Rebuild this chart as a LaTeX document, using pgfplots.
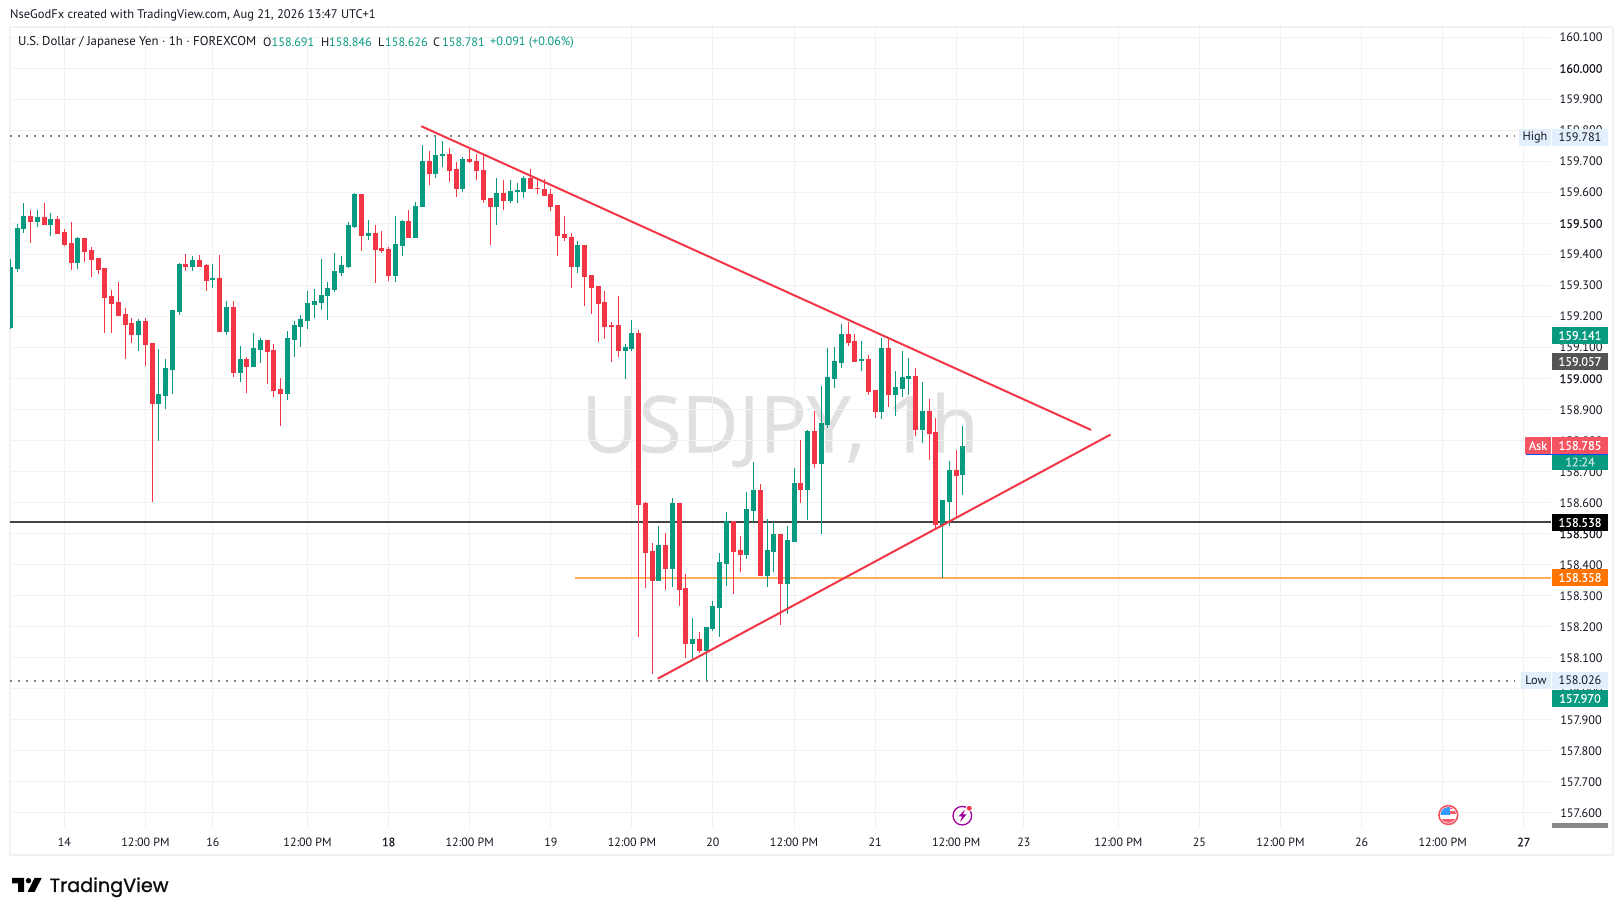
\documentclass[border=0pt]{standalone}
\usepackage{pgfplots}
\usepackage{pgfplotstable}
\usepackage{fontspec}
\pgfplotsset{compat=1.18}
\setmainfont{PT Sans}
\newfontfamily\midfont[FakeBold=0.35]{PT Sans}
\newfontfamily\logofont[FakeBold=1.1]{Poppins}
\newfontfamily\wmfont[FakeBold=0.4]{Open Sans}
\definecolor{tvg}{HTML}{089981}
\definecolor{tvr}{HTML}{F23645}
\definecolor{tvgrid}{HTML}{F1F1F1}
\definecolor{tvframe}{HTML}{F2F2F2}
\definecolor{tvtxt}{HTML}{131722}
\definecolor{tvtag}{HTML}{E3EFFD}
\definecolor{tvblk}{HTML}{434343}
\definecolor{tvorg}{HTML}{FFAE5E}
\pgfplotstableread{
i top bot hi lo
-8 159.358 159.165 159.387 159.161
-7 159.484 159.355 159.500 159.345
-6 159.523 159.481 159.568 159.471
-4 159.519 159.506 159.545 159.490
-2 159.513 159.494 159.535 159.461
2 159.452 159.374 159.458 159.355
11 159.184 159.142 159.194 159.090
14 158.948 158.919 159.097 158.800
15 159.032 158.945 159.065 158.903
16 159.219 159.029 159.219 158.952
17 159.368 159.216 159.374 159.206
19 159.381 159.361 159.394 159.348
22 159.323 159.319 159.371 159.294
24 159.229 159.152 159.252 159.142
26 159.061 159.019 159.106 158.990
28 159.097 159.039 159.148 159.039
29 159.123 159.094 159.132 159.052
33 159.129 158.952 159.155 158.932
34 159.171 159.126 159.187 159.071
35 159.190 159.168 159.206 159.103
36 159.242 159.187 159.284 159.161
37 159.248 159.239 159.290 159.197
38 159.268 159.245 159.387 159.223
39 159.290 159.265 159.313 159.190
40 159.345 159.287 159.406 159.281
41 159.365 159.342 159.397 159.332
42 159.494 159.361 159.506 159.358
43 159.594 159.490 159.600 159.487
45 159.468 159.461 159.513 159.448
49 159.432 159.332 159.526 159.313
50 159.506 159.429 159.513 159.397
52 159.555 159.455 159.571 159.455
53 159.700 159.552 159.752 159.552
55 159.719 159.661 159.781 159.648
56 159.723 159.719 159.765 159.681
59 159.706 159.610 159.716 159.603
64 159.597 159.552 159.648 159.497
66 159.603 159.574 159.642 159.565
67 159.606 159.603 159.632 159.565
68 159.645 159.603 159.652 159.581
76 159.429 159.361 159.445 159.342
83 159.100 159.090 159.113 159.000
84 159.145 159.097 159.190 159.090
88 158.461 158.348 158.526 158.348
90 158.597 158.387 158.616 158.329
93 158.158 158.145 158.229 158.094
95 158.197 158.123 158.200 158.026
96 158.265 158.194 158.284 158.187
97 158.406 158.261 158.439 158.168
98 158.539 158.403 158.571 158.332
101 158.577 158.432 158.635 158.419
102 158.639 158.574 158.732 158.539
104 158.445 158.365 158.548 158.329
105 158.497 158.442 158.539 158.377
107 158.477 158.339 158.526 158.242
108 158.661 158.474 158.713 158.474
110 158.829 158.642 158.835 158.545
112 158.855 158.726 158.977 158.500
113 159.003 158.852 159.100 158.842
114 159.055 159.000 159.103 158.971
115 159.142 159.052 159.177 159.035
118 159.061 159.058 159.123 159.026
121 159.097 158.894 159.132 158.871
123 158.971 158.948 159.026 158.881
124 159.003 158.968 159.090 158.942
125 159.006 159.000 159.068 158.948
127 158.894 158.835 158.990 158.794
130 158.606 158.529 158.610 158.358
131 158.703 158.603 158.735 158.526
133 158.781 158.691 158.846 158.626
}\greencandles
\pgfplotstableread{
i top bot hi lo
-5 159.523 159.506 159.545 159.439
-3 159.519 159.494 159.568 159.494
-1 159.513 159.468 159.523 159.465
0 159.471 159.432 159.484 159.429
1 159.435 159.374 159.506 159.352
3 159.452 159.410 159.452 159.377
4 159.413 159.384 159.423 159.329
5 159.387 159.352 159.387 159.339
6 159.355 159.261 159.358 159.148
7 159.265 159.242 159.287 159.148
8 159.245 159.203 159.313 159.203
9 159.206 159.174 159.229 159.065
10 159.177 159.142 159.197 159.116
12 159.184 159.110 159.197 159.042
13 159.113 158.919 159.116 158.603
18 159.368 159.361 159.403 159.348
20 159.381 159.361 159.400 159.361
21 159.365 159.316 159.371 159.284
23 159.323 159.152 159.400 159.152
25 159.229 159.019 159.252 159.006
27 159.061 159.039 159.071 158.955
30 159.123 159.087 159.126 158.984
31 159.090 158.961 159.113 158.942
32 158.965 158.952 159.003 158.848
44 159.594 159.461 159.597 159.413
46 159.468 159.416 159.494 159.310
47 159.419 159.413 159.477 159.406
48 159.416 159.332 159.426 159.316
51 159.506 159.455 159.545 159.455
54 159.700 159.661 159.735 159.623
57 159.723 159.671 159.745 159.635
58 159.674 159.610 159.697 159.587
60 159.706 159.697 159.742 159.694
61 159.700 159.668 159.723 159.642
62 159.671 159.577 159.723 159.568
63 159.581 159.552 159.584 159.432
65 159.597 159.574 159.642 159.545
69 159.645 159.610 159.677 159.610
70 159.613 159.610 159.645 159.594
71 159.610 159.590 159.645 159.590
72 159.594 159.555 159.610 159.542
73 159.558 159.461 159.558 159.394
74 159.465 159.452 159.526 159.445
75 159.455 159.361 159.471 159.294
77 159.429 159.329 159.429 159.235
78 159.332 159.294 159.335 159.210
79 159.297 159.242 159.300 159.119
80 159.245 159.168 159.284 159.129
81 159.171 159.168 159.184 159.055
82 159.171 159.090 159.268 159.071
85 159.145 158.594 159.158 158.168
86 158.597 158.439 158.603 158.326
87 158.442 158.348 158.471 158.048
89 158.461 158.387 158.503 158.319
91 158.597 158.319 158.597 158.268
92 158.323 158.145 158.371 158.100
94 158.158 158.123 158.184 158.116
99 158.539 158.442 158.542 158.306
100 158.445 158.432 158.494 158.377
103 158.639 158.365 158.661 158.365
106 158.497 158.339 158.500 158.206
109 158.661 158.642 158.803 158.600
111 158.829 158.726 158.897 158.713
116 159.142 159.116 159.184 159.106
117 159.119 159.055 159.145 159.055
119 159.061 158.958 159.077 158.948
120 158.961 158.894 158.961 158.874
122 159.097 158.948 159.129 158.910
126 159.006 158.835 159.035 158.816
128 158.894 158.823 158.935 158.739
129 158.826 158.529 158.874 158.516
132 158.703 158.687 158.771 158.555
}\redcandles
% px helper: y measured from the top of the 1623x916 image
\newcommand{\ptag}[6]{% x0,x1,ytop,ybot,fill,text
  \fill[#5] (#1pt,916pt-#3pt) rectangle (#2pt,916pt-#4pt);
  \node[anchor=center,inner sep=0pt,font=\fontsize{12.3}{15}\selectfont] at ({(#1+#2)/2*1pt},{916pt-(#3+#4)/2*1pt}) {#6};}
\begin{document}
\begin{tikzpicture}[x=1pt,y=1pt]
\useasboundingbox (0,0) rectangle (1623,916);
\fill[white] (0,0) rectangle (1623,916);
% frame
\draw[tvframe,line width=2.5pt] (10,916-27) rectangle (1613,916-855);
% watermark
\node[anchor=center,inner sep=0pt,text=black!12,font=\wmfont\fontsize{78.5}{90}\selectfont] at (780,916-430) {USDJPY, 1h};
\begin{axis}[
  at={(10pt,88pt)},anchor=south west,
  scale only axis,width=1541pt,height=802pt,
  xmin=-8.04,xmax=220.03,ymin=157.5516,ymax=160.1387,
  axis line style={draw=none},major tick length=0pt,
  grid=major,grid style={tvgrid,line width=1pt},
  xtick={0,12,22,36,48,60,72,84,96,108,120,132,142,156,168,180,192,204,216},
  xticklabels={14,12:00 PM,16,12:00 PM,{\midfont 18},12:00 PM,19,12:00 PM,20,12:00 PM,21,12:00 PM,23,12:00 PM,25,12:00 PM,26,12:00 PM,{\midfont 27}},
  xticklabel style={anchor=center,yshift=-14pt,font=\fontsize{12}{14}\selectfont,text=tvtxt},
  ytick={157.6,157.7,157.8,157.9,158.0,158.1,158.2,158.3,158.4,158.5,158.6,158.7,158.8,158.9,159.0,159.1,159.2,159.3,159.4,159.5,159.6,159.7,159.8,159.9,160.0,160.1},
  yticklabels={157.600,157.700,157.800,157.900,158.000,158.100,158.200,158.300,158.400,{\midfont 158.500},158.600,158.700,158.800,158.900,{\midfont 159.000},159.100,159.200,159.300,159.400,{\midfont 159.500},159.600,159.700,159.800,159.900,{\midfont 160.000},160.100},
  yticklabel pos=right,
  yticklabel style={anchor=center,xshift=30pt,font=\fontsize{12.3}{15}\selectfont,text=tvtxt},
]
% horizontal levels, beneath the candles
\addplot[color=tvorg,line width=2pt,forget plot] coordinates {(75.65,158.358) (220.03,158.358)};
\addplot[color=tvblk,line width=2pt,forget plot] coordinates {(-8.04,158.538) (220.03,158.538)};
% wicks and bodies
\addplot[draw=none,mark=none,forget plot,error bars/.cd,y dir=plus,y explicit,error mark=none,error bar style={draw=tvg,line width=1pt}] table[x=i,y=lo,y error expr=\thisrow{hi}-\thisrow{lo}] {\greencandles};
\addplot[draw=none,mark=none,forget plot,error bars/.cd,y dir=plus,y explicit,error mark=none,error bar style={draw=tvg,line width=5pt}] table[x=i,y=bot,y error expr=\thisrow{top}-\thisrow{bot}+0.002] {\greencandles};
\addplot[draw=none,mark=none,forget plot,error bars/.cd,y dir=plus,y explicit,error mark=none,error bar style={draw=tvr,line width=1pt}] table[x=i,y=lo,y error expr=\thisrow{hi}-\thisrow{lo}] {\redcandles};
\addplot[draw=none,mark=none,forget plot,error bars/.cd,y dir=plus,y explicit,error mark=none,error bar style={draw=tvr,line width=5pt}] table[x=i,y=bot,y error expr=\thisrow{top}-\thisrow{bot}+0.002] {\redcandles};
% high / low dotted
\addplot[color=black!50,line width=2pt,dash pattern=on 2pt off 6pt,forget plot] coordinates {(-8.04,159.781) (214.7,159.781)};
\addplot[color=black!50,line width=2pt,dash pattern=on 2pt off 6pt,forget plot] coordinates {(-8.04,158.026) (214.7,158.026)};
% trend lines
\addplot[color=tvr,line width=2pt,forget plot] coordinates {(52.83,159.814) (151.95,158.835)};
\addplot[color=tvr,line width=2pt,forget plot] coordinates {(87.82,158.033) (154.85,158.820)};
\end{axis}
% price tags
\ptag{1519}{1551}{129}{146}{tvtag}{\textcolor{tvtxt}{High}}
\ptag{1552}{1608}{129}{146}{tvtag}{\textcolor{tvtxt}{159.781}}
\ptag{1552}{1608}{327}{344}{tvg}{\textcolor{white}{\midfont 159.141}}
\ptag{1552}{1608}{353}{370}{black!67}{\textcolor{white}{\midfont 159.057}}
\ptag{1525}{1551}{437}{454}{tvr!85!white}{\textcolor{white}{\midfont Ask}}
\ptag{1552}{1608}{437}{454}{tvr!85!white}{\textcolor{white}{\midfont 158.785}}
\ptag{1552}{1608}{454}{470}{tvg}{\textcolor{white!75!tvg}{\midfont 12:24}}
\fill[blue!70!cyan] (1526,916-454.6) rectangle (1608,916-453.6);
\ptag{1552}{1608}{514}{531}{black}{\textcolor{white}{\midfont 158.538}}
\ptag{1552}{1608}{569}{586}{orange!90!red}{\textcolor{white}{\midfont 158.358}}
\ptag{1521}{1551}{672}{689}{tvtag}{\textcolor{tvtxt}{Low}}
\ptag{1552}{1608}{672}{689}{tvtag}{\textcolor{tvtxt}{158.026}}
\ptag{1552}{1608}{690}{707}{tvg}{\textcolor{white}{\midfont 157.970}}
\fill[black!47] (1552,916-823) rectangle (1608,916-828);
% header texts
\node[anchor=west,inner sep=0pt,text=tvtxt,font=\fontsize{12.5}{14}\selectfont] at (10,916-15.5) {NseGodFx created with TradingView.com, Aug 21, 2026 13:47 UTC+1};
\node[anchor=west,inner sep=0pt,text=tvtxt,font=\fontsize{12.8}{14}\selectfont] at (18,916-42.5) {U.S. Dollar / Japanese Yen · 1h · FOREXCOM};
\begin{scope}[every node/.style={anchor=west,inner sep=0pt,font=\fontsize{12.2}{14}\selectfont}]
\node[text=tvtxt] at (263,916-42.5) {O};\node[text=tvg] at (271.5,916-42.5) {158.691};
\node[text=tvtxt] at (321,916-42.5) {H};\node[text=tvg] at (329,916-42.5) {158.846};
\node[text=tvtxt] at (378,916-42.5) {L};\node[text=tvg] at (385,916-42.5) {158.626};
\node[text=tvtxt] at (433,916-42.5) {C};\node[text=tvg] at (442,916-42.5) {158.781};
\node[text=tvg] at (490,916-42.5) {+0.091 (+0.06\%)};
\end{scope}
% event icons
\draw[violet!75!magenta,line width=1.3pt] (962.3,916-815.7) circle (9.3);
\fill[violet!75!magenta] (965,916-809.5) -- (958.5,916-816.5) -- (962,916-816.5) -- (960,916-822) -- (966.5,916-814.5) -- (963,916-814.5) -- cycle;
\fill[white] (969.3,916-808.3) circle (3.4);
\fill[tvr] (969.3,916-808.3) circle (2.4);
\begin{scope}
\clip (1448.3,916-815) circle (7.8);
\fill[white] (1438,916-825) rectangle (1459,916-805);
\fill[tvr!80!white] (1438,916-825) rectangle (1459,916-819.5);
\fill[tvr!80!white] (1438,916-814.5) rectangle (1459,916-811.5);
\fill[tvr!80!white] (1438,916-809) rectangle (1459,916-806);
\fill[blue!50!cyan!80!white] (1438,916-815.5) rectangle (1450,916-806);
\end{scope}
\draw[tvr!85!white,line width=1.6pt] (1448.3,916-815) circle (9.4);
% logo
\fill[black] (12,916-878) -- (24,916-878) -- (24,916-892) -- (18,916-892) -- (18,916-883.5) -- (12,916-883.5) -- cycle;
\fill[black] (28.5,916-880.7) circle (2.7);
\fill[black] (34.5,916-878) -- (41.7,916-878) -- (34.5,916-892) -- (27.5,916-892) -- cycle;
\node[anchor=base west,inner sep=0pt,text=black!95,font=\logofont\fontsize{19.2}{24}\selectfont] at (49.5,916-892) {TradingView};
\end{tikzpicture}
\end{document}
